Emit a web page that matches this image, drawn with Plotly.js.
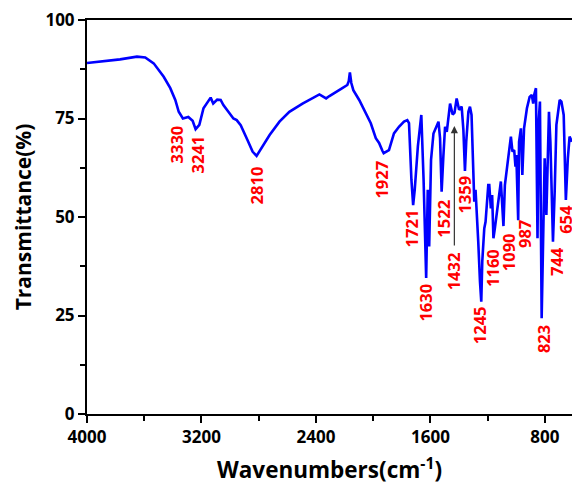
<!DOCTYPE html>
<html>
<head>
<meta charset="utf-8">
<script src="https://cdn.plot.ly/plotly-3.0.1.min.js"></script>
<style>html,body{margin:0;padding:0;background:#fff;}#chart{width:572px;height:485px;}</style>
</head>
<body>
<div id="chart"></div>
<script>
// FTIR spectrum: wavenumber (cm^-1) and transmittance (%)
const wavenumber = [4000,3909,3769,3651,3593,3534,3464,3418,3383,3359,3330,3292,3262,3241,3215,3186,3158,3136,3118,3090,3066,3047,3012,2977,2954,2926,2878,2843,2815,2780,2724,2655,2586,2494,2376,2329,2306,2216,2181,2171,2163,2153,2139,2098,2052,2017,1982,1959,1936,1927,1890,1855,1820,1785,1762,1750,1733,1721,1710,1688,1664,1648,1630,1619,1609,1596,1579,1567,1556,1544,1533,1522,1510,1498,1486,1475,1463,1445,1432,1417,1400,1382,1370,1359,1350,1335,1324,1313,1301,1294,1285,1278,1266,1254,1245,1238,1224,1215,1196,1189,1178,1169,1160,1150,1139,1127,1108,1090,1080,1057,1038,1027,1015,1006,1000,987,981,968,958,946,926,907,892,882,875,863,852,845,835,823,814,802,790,772,762,744,732,720,697,685,669,660,654,640,628,611];
const transmittance = [89.1,89.4,90.0,90.7,90.5,89.0,85.6,82.7,79.7,76.7,75.0,75.4,74.4,72.3,73.4,77.6,79.3,80.3,78.8,79.8,79.7,78.4,76.7,75.0,74.6,73.3,69.5,66.6,65.5,67.5,70.8,74.2,76.7,78.8,81.1,80.1,80.7,82.7,83.5,84.5,86.7,84.0,82.2,79.7,76.3,73.8,70.0,68.8,66.8,66.2,67.0,71.2,72.9,74.2,74.6,73.8,59.4,53.0,56.9,67.9,75.9,59.4,34.5,56.9,42.5,64.5,71.2,72.1,72.9,74.2,70.0,56.4,65.3,72.9,71.6,75.5,78.8,76.0,76.5,80.1,77.2,78.0,72.1,61.7,69.1,76.7,78.0,75.9,64.9,53.9,56.9,53.0,43.7,33.6,28.5,38.7,47.1,48.8,58.1,58.1,52.2,55.6,44.6,47.1,50.5,53.9,59.0,47.7,58.1,64.9,70.4,66.6,67.0,62.8,65.7,49.2,69.1,72.5,60.7,72.5,77.6,80.5,81.0,78.8,81.0,82.7,44.6,73.4,79.3,24.3,43.7,64.9,50.5,76.7,69.1,43.7,56.4,73.4,79.7,79.3,75.9,62.4,54.3,64.9,70.4,69.1];

// Peak labels and where their text sits (data coordinates)
const peakLabels = ["3330","3241","2810","1927","1721","1630","1522","1359","1432","1245","1160","1090","987","823","744","654"];
const labelX = [3374,3228,2817,1941,1732,1635,1509,1363,1433,1252,1162,1057,939,814,723,654];
const labelY = [68.3,66.0,58.1,59.4,47.0,28.4,49.7,55.8,36.3,22.6,37.1,41.1,45.7,19.0,38.8,49.5];

// Arrow for the 1432 label: tail and tip
const arrowX = 1433, arrowTail = 42.4, arrowTip = 73.1;

const xTicks = [4000,3200,2400,1600,800];
const yTicks = [0,25,50,75,100];

const FONT = '"Open Sans", "DejaVu Sans", sans-serif';

const annotations = peakLabels.map((t,i)=>({
  x: labelX[i], y: labelY[i], xref:'x', yref:'y',
  text: t, showarrow:false, textangle:-90,
  xanchor:'center', yanchor:'middle',
  font:{family:FONT, size:16.5, color:'#ff0000', weight:'bold'}
}));
annotations.push({
  x: arrowX, y: arrowTip, ax: arrowX, ay: arrowTail,
  xref:'x', yref:'y', axref:'x', ayref:'y',
  text:'', showarrow:true, arrowhead:2, arrowsize:1.2, arrowwidth:1.2,
  arrowcolor:'#333333', standoff:0, startstandoff:0
});

const trace = {
  x: wavenumber, y: transmittance, type:'scatter', mode:'lines',
  line:{color:'#0000ff', width:2.6}, hoverinfo:'skip'
};

const layout = {
  width:572, height:485,
  margin:{l:87, r:0, t:20, b:71},
  paper_bgcolor:'#ffffff', plot_bgcolor:'#ffffff',
  showlegend:false,
  xaxis:{
    range:[4000,611], autorange:false,
    tickvals:xTicks, ticktext:xTicks.map(String),
    ticks:'outside', ticklen:7, tickwidth:2, tickcolor:'#000',
    minor:{tickvals:[3600,2800,2000,1200], ticks:'outside', ticklen:5, tickwidth:2, tickcolor:'#000'},
    showline:true, linecolor:'#000', linewidth:2, mirror:true,
    showgrid:false, zeroline:false,
    tickfont:{family:FONT, size:17, color:'#000', weight:'bold'},
    title:{text:'Wavenumbers(cm<sup>-1</sup>)', standoff:18,
      font:{family:FONT, size:22.5, color:'#000', weight:'bold'}}
  },
  yaxis:{
    range:[0,100], autorange:false,
    tickvals:yTicks, ticktext:yTicks.map(String),
    ticks:'outside', ticklen:7, tickwidth:2, tickcolor:'#000',
    minor:{tickvals:[12.5,37.5,62.5,87.5], ticks:'outside', ticklen:5, tickwidth:2, tickcolor:'#000'},
    showline:true, linecolor:'#000', linewidth:2, mirror:false,
    showgrid:false, zeroline:false,
    tickfont:{family:FONT, size:17, color:'#000', weight:'bold'},
    title:{text:'Transmittance(%)', standoff:8,
      font:{family:FONT, size:21, color:'#000', weight:'bold'}}
  },
  annotations: annotations
};

Plotly.newPlot('chart', [trace], layout, {staticPlot:true, displayModeBar:false});
</script>
</body>
</html>
